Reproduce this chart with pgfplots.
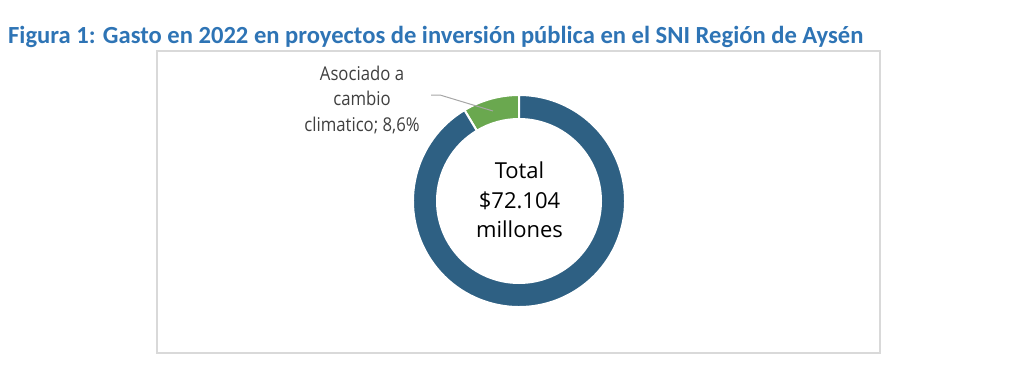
\documentclass[border=0pt]{standalone}
\usepackage{pgfplots}
\pgfplotsset{compat=1.18}
\usepackage{fontspec}
\setmainfont{Carlito}
\newfontfamily\titlefont{Carlito}
\newfontfamily\labelfont[FakeStretch=0.88]{Open Sans}
\newfontfamily\centerfont{Open Sans}
\definecolor{titleblue}{HTML}{2E74B5}
\definecolor{donutblue}{HTML}{2E6083}
\definecolor{donutgreen}{HTML}{6AA84F}
\definecolor{labelgray}{HTML}{404040}
\definecolor{leadergray}{HTML}{A6A6A6}
\definecolor{boxgray}{HTML}{D9D9D9}
% Data: share of spending (%)
\newcommand\climatepct{8.6}
\newcommand\otherpct{91.4}
\begin{document}
\begin{tikzpicture}
\begin{axis}[
  hide axis, scale only axis,
  width=1024bp, height=371bp,
  xmin=0, xmax=1024, ymin=0, ymax=371,
  y dir=reverse, clip=false]
\path[draw=none] (axis cs:0,0) rectangle (axis cs:1024,371);
% chart area box
\draw[boxgray, line width=1.2bp] (axis cs:157,51) rectangle (axis cs:880,353);
% donut
\pgfmathsetmacro{\angA}{90}
\pgfmathsetmacro{\angB}{90+3.6*\climatepct}
\pgfmathsetmacro{\angC}{\angB+3.6*\otherpct}
\fill[donutgreen, draw=white, line width=2bp]
  (axis cs:519,201) ++(\angA:106bp) arc[start angle=\angA, end angle=\angB, radius=106bp]
  -- ++(\angB:-24bp) arc[start angle=\angB, end angle=\angA, radius=82bp] -- cycle;
\fill[donutblue, draw=white, line width=2bp]
  (axis cs:519,201) ++(\angB:106bp) arc[start angle=\angB, end angle=\angC, radius=106bp]
  -- ++(\angC:-24bp) arc[start angle=\angC, end angle=\angB, radius=82bp] -- cycle;
% leader line
\draw[leadergray, line width=1bp] (axis cs:431,95) -- (axis cs:440,95) -- (axis cs:493,111);
% data label
\node[anchor=base, text=labelgray, font=\labelfont\fontsize{19bp}{23bp}\selectfont, inner sep=0pt] at (axis cs:362,80) {Asociado a};
\node[anchor=base, text=labelgray, font=\labelfont\fontsize{19bp}{23bp}\selectfont, inner sep=0pt] at (axis cs:362,105) {cambio};
\node[anchor=base, text=labelgray, font=\labelfont\fontsize{19bp}{23bp}\selectfont, inner sep=0pt] at (axis cs:362,131) {climatico; 8,6\%};
% center text
\node[anchor=base, text=black, font=\centerfont\fontsize{22bp}{26bp}\selectfont, inner sep=0pt] at (axis cs:519.5,178) {Total};
\node[anchor=base, text=black, font=\centerfont\fontsize{22bp}{26bp}\selectfont, inner sep=0pt] at (axis cs:519.5,208) {\$72.104};
\node[anchor=base, text=black, font=\centerfont\fontsize{22bp}{26bp}\selectfont, inner sep=0pt] at (axis cs:519.5,237) {millones};
% title
\node[anchor=base west, text=titleblue, font=\titlefont\bfseries\fontsize{24.6bp}{28bp}\selectfont, inner sep=0pt] at (axis cs:8,43) {Figura 1: Gasto en 2022 en proyectos de inversión pública en el SNI Región de Aysén};
\end{axis}
\end{tikzpicture}
\end{document}
